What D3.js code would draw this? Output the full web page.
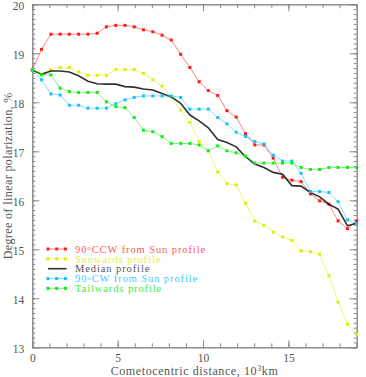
<!DOCTYPE html>
<html>
<head>
<meta charset="utf-8">
<script src="https://cdn.jsdelivr.net/npm/d3@7"></script>
<style>
  body { margin: 0; background: #fff; }
  svg text { font-family: "Liberation Serif", "Times New Roman", serif; }
</style>
</head>
<body>
<div id="chart"></div>
<script>
// distances (10^3 km) at which the profiles are sampled
const distance = [0, 0.54, 1.09, 1.63, 2.17, 2.71, 3.26, 3.80, 4.34, 4.89, 5.43, 5.97,
  6.51, 7.06, 7.60, 8.14, 8.69, 9.23, 9.77, 10.31, 10.86, 11.40, 11.94, 12.49, 13.03,
  13.57, 14.11, 14.66, 15.20, 15.74, 16.29, 16.83, 17.37, 17.91, 18.46, 19.00];

const ccw = [18.66, 19.08, 19.39, 19.39, 19.39, 19.39, 19.39, 19.41, 19.54, 19.57, 19.57, 19.54,
  19.48, 19.44, 19.37, 19.27, 18.98, 18.71, 18.42, 18.24, 18.14, 17.83, 17.70, 17.36, 17.13,
  17.13, 16.86, 16.47, 16.41, 16.38, 16.13, 15.99, 15.92, 15.58, 15.42, 15.58];

const sunwards = [18.66, 18.57, 18.66, 18.71, 18.71, 18.62, 18.55, 18.55, 18.55, 18.67, 18.67, 18.67,
  18.59, 18.46, 18.33, 18.10, 17.84, 17.59, 17.20, 17.01, 16.58, 16.34, 16.31, 15.94, 15.58,
  15.49, 15.35, 15.25, 15.18, 14.97, 14.95, 14.90, 14.46, 13.92, 13.47, 13.26];

const median = [18.66, 18.57, 18.64, 18.64, 18.62, 18.54, 18.43, 18.38, 18.37, 18.37, 18.32, 18.31,
  18.27, 18.25, 18.18, 18.11, 17.98, 17.74, 17.62, 17.48, 17.24, 17.18, 17.09, 16.89, 16.74,
  16.67, 16.57, 16.53, 16.30, 16.29, 16.16, 16.07, 15.92, 15.82, 15.48, 15.53];

const cw = [18.66, 18.46, 18.17, 18.15, 17.94, 17.94, 17.88, 17.88, 17.88, 17.97, 18.05, 18.10,
  18.13, 18.13, 18.13, 18.13, 18.10, 17.86, 17.86, 17.86, 17.69, 17.56, 17.39, 17.30, 17.20,
  17.15, 16.92, 16.80, 16.80, 16.55, 16.18, 16.18, 16.16, 15.97, 15.60, 15.52];

const tailwards = [18.66, 18.56, 18.56, 18.29, 18.22, 18.20, 18.20, 18.20, 18.01, 17.91, 17.89, 17.69,
  17.43, 17.40, 17.30, 17.16, 17.16, 17.16, 17.13, 17.01, 17.11, 17.01, 16.97, 16.90, 16.76,
  16.76, 16.76, 16.76, 16.76, 16.67, 16.63, 16.63, 16.67, 16.67, 16.67, 16.67];

const xTicks = [0, 5, 10, 15];
const yTicks = [13, 14, 15, 16, 17, 18, 19, 20];

const series = [
  { name: "CCW", values: ccw, color: "#ff1a1a", markers: true },
  { name: "Sunwards profile", values: sunwards, color: "#dcf000", markers: true },
  { name: "Median profile", values: median, color: "#1a1a1a", markers: false },
  { name: "CW", values: cw, color: "#10c4ff", markers: true },
  { name: "Tailwards profile", values: tailwards, color: "#10ee10", markers: true }
];

const W = 366, H = 377;
const margin = { top: 4.3, right: 9.3, bottom: 29.7, left: 32.3 };
const iw = W - margin.left - margin.right;
const ih = H - margin.top - margin.bottom;

const svg = d3.select("#chart").append("svg")
  .attr("width", W).attr("height", H);
const g = svg.append("g").attr("transform", `translate(${margin.left},${margin.top})`);

const x = d3.scaleLinear().domain([0, 19]).range([0, iw]);
const y = d3.scaleLinear().domain([13, 20]).range([ih, 0]);

const axisColor = "#888";
const minorX = d3.range(0, 20, 1);
const minorY = d3.range(130, 201, 1).map(v => v / 10);

function styleAxis(sel) {
  sel.selectAll("path").attr("stroke", axisColor);
  sel.selectAll("line").attr("stroke", axisColor);
  sel.selectAll("text").attr("fill", "#555").style("font-size", "11.5px")
    .style("font-family", "'Liberation Serif', serif");
}

// minor ticks
g.append("g").attr("transform", `translate(0,${ih})`)
  .call(d3.axisBottom(x).tickValues(minorX).tickSize(-4).tickFormat("")).call(styleAxis);
g.append("g")
  .call(d3.axisTop(x).tickValues(minorX).tickSize(-4).tickFormat("")).call(styleAxis);
g.append("g")
  .call(d3.axisLeft(y).tickValues(minorY).tickSize(-3).tickFormat("")).call(styleAxis);
g.append("g").attr("transform", `translate(${iw},0)`)
  .call(d3.axisRight(y).tickValues(minorY).tickSize(-3).tickFormat("")).call(styleAxis);

// major ticks + labels
g.append("g").attr("transform", `translate(0,${ih})`)
  .call(d3.axisBottom(x).tickValues(xTicks).tickSize(-7).tickSizeOuter(0).tickPadding(7)
    .tickFormat(d3.format("d"))).call(styleAxis);
g.append("g")
  .call(d3.axisTop(x).tickValues(xTicks).tickSize(-7).tickSizeOuter(0).tickFormat("")).call(styleAxis);
const yAxisG = g.append("g")
  .call(d3.axisLeft(y).tickValues(yTicks).tickSize(-7).tickSizeOuter(0).tickPadding(8)
    .tickFormat(d3.format("d"))).call(styleAxis);
yAxisG.selectAll("text").attr("dy", "0.45em");
g.append("g").attr("transform", `translate(${iw},0)`)
  .call(d3.axisRight(y).tickValues(yTicks).tickSize(-7).tickSizeOuter(0).tickFormat("")).call(styleAxis);

// data
const line = d3.line().x((d, i) => x(distance[i])).y(d => y(d));

series.forEach(s => {
  g.append("path").datum(s.values)
    .attr("d", line)
    .attr("fill", "none")
    .attr("stroke", s.color)
    .attr("stroke-width", s.markers ? 1 : 1.6)
    .attr("stroke-opacity", s.markers ? 0.55 : 0.9);
  if (s.markers) {
    g.append("g").selectAll("rect").data(s.values).join("rect")
      .attr("x", (d, i) => x(distance[i]) - 1.5)
      .attr("y", d => y(d) - 1.5)
      .attr("width", 3).attr("height", 3)
      .attr("fill", s.color);
  }
});

// legend
const legend = g.append("g").attr("transform", `translate(${48 - margin.left},${249 - margin.top})`);
const legendLabels = [
  ["90", "o", "CCW from Sun profile"],
  ["Sunwards profile"],
  ["Median profile"],
  ["90", "o", "CW from Sun profile"],
  ["Tailwards profile"]
];
const textColors = ["#ff5a5a", "#e2ef40", "#555", "#40ccff", "#40ee40"];
series.forEach((s, k) => {
  const row = legend.append("g").attr("transform", `translate(0,${k * 9.85})`);
  row.append("line").attr("x1", 0).attr("x2", 18.5).attr("y1", 0).attr("y2", 0)
    .attr("stroke", s.color).attr("stroke-width", s.markers ? 1 : 1.6)
    .attr("stroke-opacity", s.markers ? 0.55 : 0.9);
  if (s.markers) {
    row.selectAll("rect").data([0, 8.7, 17.4]).join("rect")
      .attr("x", d => d - 1.5).attr("y", -1.5).attr("width", 3).attr("height", 3)
      .attr("fill", s.color);
  }
  const t = row.append("text").attr("x", 27).attr("dy", "0.35em")
    .attr("fill", textColors[k]).style("font-size", "10.5px").style("letter-spacing", "0.9px");
  const parts = legendLabels[k];
  if (parts.length === 3) {
    t.append("tspan").text(parts[0]);
    t.append("tspan").attr("dy", "-2.5").style("font-size", "7px").text(parts[1]);
    t.append("tspan").attr("dy", "2.5").text(parts[2]);
  } else {
    t.text(parts[0]);
  }
});

// axis titles
const xt = svg.append("text")
  .attr("x", margin.left + iw / 2).attr("y", 375)
  .attr("text-anchor", "middle").attr("fill", "#555")
  .style("font-size", "12px").style("letter-spacing", "0.6px");
xt.append("tspan").text("Cometocentric distance, 10");
xt.append("tspan").attr("baseline-shift", "super").style("font-size", "8px").text("3");
xt.append("tspan").text("km");

svg.append("text")
  .attr("transform", `translate(12,${margin.top + ih / 2}) rotate(-90)`)
  .attr("text-anchor", "middle").attr("fill", "#555")
  .style("font-size", "12px").style("letter-spacing", "0.4px")
  .text("Degree of linear polarization, %");
</script>
</body>
</html>
